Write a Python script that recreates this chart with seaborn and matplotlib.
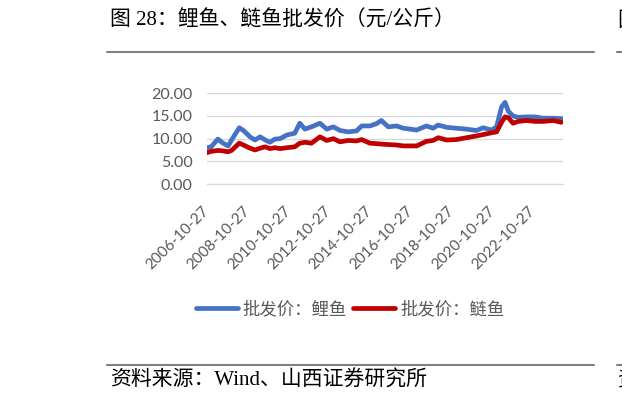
import pandas as pd
import seaborn as sns
import matplotlib.pyplot as plt
from matplotlib.lines import Line2D

"""Data read off the reference chart"""
dates = ['2006-10-27', '2007-01-15', '2007-05-15', '2007-08-15', '2007-11-15',
         '2008-01-15', '2008-06-01', '2008-08-15', '2008-12-10', '2009-03-10',
         '2009-06-10', '2009-09-10', '2009-12-01', '2010-03-01', '2010-06-01',
         '2010-10-01', '2011-02-20', '2011-05-20', '2011-08-20', '2011-12-15',
         '2012-05-15', '2012-09-15', '2013-01-10', '2013-05-10', '2013-10-01',
         '2014-03-01', '2014-06-01', '2014-10-27', '2015-02-20', '2015-05-20',
         '2015-09-20', '2016-02-15', '2016-06-15', '2016-10-15', '2017-02-10',
         '2017-08-01', '2017-12-01', '2018-03-01', '2018-08-01', '2019-01-20',
         '2019-07-20', '2020-01-15', '2020-05-15', '2020-10-15', '2021-01-10',
         '2021-04-10', '2021-06-10', '2021-08-10', '2021-11-01', '2022-02-01',
         '2022-07-01', '2022-12-01', '2023-04-20', '2023-10-20', '2024-03-15']
carp = [8.0, 8.2, 9.9, 9.0, 8.4, 9.7, 12.4, 11.8, 10.4, 9.7,
        10.4, 9.7, 9.2, 9.9, 10.0, 10.8, 11.2, 13.4, 12.1, 12.6,
        13.4, 12.1, 12.6, 11.8, 11.5, 11.7, 12.8, 12.8, 13.3, 14.0,
        12.6, 12.8, 12.3, 12.1, 11.9, 12.8, 12.3, 13.0, 12.5, 12.3,
        12.1, 11.8, 12.4, 11.9, 12.6, 17.0, 18.0, 16.0, 15.0, 14.7,
        14.8, 14.8, 14.5, 14.5, 14.4]
silver_carp = [6.9, 7.2, 7.4, 7.3, 7.1, 7.4, 9.0, 8.6, 7.9, 7.5,
               7.9, 8.2, 7.8, 8.0, 7.8, 8.0, 8.2, 9.0, 9.2, 9.0,
               10.4, 9.6, 10.0, 9.3, 9.6, 9.5, 9.8, 9.0, 8.9, 8.8,
               8.7, 8.6, 8.4, 8.4, 8.4, 9.4, 9.6, 10.2, 9.7, 9.8,
               10.2, 10.6, 10.9, 11.3, 11.5, 13.6, 14.8, 14.6, 13.4, 13.8,
               14.0, 13.8, 13.8, 14.0, 13.6]
series_names = ['批发价：鲤鱼', '批发价：鲢鱼']
tick_dates = ['2006-10-27', '2008-10-27', '2010-10-27', '2012-10-27', '2014-10-27',
              '2016-10-27', '2018-10-27', '2020-10-27', '2022-10-27']
y_ticks = [0, 5, 10, 15, 20]

df = pd.DataFrame({
    'date': pd.to_datetime(dates * 2),
    'price': carp + silver_carp,
    'series': [series_names[0]] * len(dates) + [series_names[1]] * len(dates),
})

sns.set_style('white')
plt.rcParams['font.family'] = ['Lato', 'Noto Sans CJK SC', 'DejaVu Sans']

fig = plt.figure(figsize=(6.22, 4.03), dpi=100)
ax = fig.add_axes([0.3323, 0.5434, 0.5724, 0.2251])

sns.lineplot(ax=ax, data=df, x='date', y='price', hue='series',
             palette=['#4472C4', '#C00000'], linewidth=3.4, legend=False)

"""Axes styling"""
ax.set_xlim(pd.Timestamp('2006-10-27'), pd.Timestamp('2024-04-08'))
ax.set_ylim(0, 20)
ax.set_yticks(y_ticks)
ax.set_yticklabels([f'{v:.2f}' for v in y_ticks])
ax.set_xticks(pd.to_datetime(tick_dates))
ax.set_xticklabels(tick_dates, rotation=45, ha='right', va='center',
                   rotation_mode='anchor')
ax.set_xlabel('')
ax.set_ylabel('')
ax.grid(axis='y', color='#D9D9D9', linewidth=1)
ax.grid(axis='x', visible=False)
for side in ['top', 'right', 'left']:
    ax.spines[side].set_visible(False)
ax.spines['bottom'].set_color('#D9D9D9')
ax.tick_params(axis='x', length=6, width=1, color='#D9D9D9', direction='out',
               labelsize=11, labelcolor='#595959', pad=12)
ax.tick_params(axis='y', length=0, labelsize=11.5, labelcolor='#595959', pad=10)

"""Legend"""
handles = [Line2D([0], [0], color='#4472C4', linewidth=3.4),
           Line2D([0], [0], color='#C00000', linewidth=3.4)]
leg = fig.legend(handles, series_names, loc='center', ncol=2,
                 bbox_to_anchor=(0.563, 0.232), frameon=False,
                 handlelength=2.4, handletextpad=0.3, columnspacing=0.35,
                 prop={'family': ['Noto Sans CJK SC'], 'size': 12.5})
for t in leg.get_texts():
    t.set_color('#595959')

"""Title, source and rules"""
serif_cjk = ['Liberation Serif', 'Noto Sans CJK SC']
fig.text(110 / 622, 1 - 21 / 403, '图 28：鲤鱼、鲢鱼批发价（元/公斤）',
         family=serif_cjk, fontsize=15, va='center', ha='left', color='black')
fig.text(110 / 622, 1 - 381 / 403, '资料来源：Wind、山西证券研究所',
         family=serif_cjk, fontsize=15, va='center', ha='left', color='black')
fig.text(617 / 622, 1 - 21 / 403, '图', family=serif_cjk, fontsize=15,
         va='center', ha='left', color='black')
fig.text(617 / 622, 1 - 381 / 403, '资', family=serif_cjk, fontsize=15,
         va='center', ha='left', color='black')
for y in [1 - 51.7 / 403, 1 - 365 / 403]:
    fig.add_artist(Line2D([107 / 622, 594 / 622], [y, y], color='#7F7F7F',
                          linewidth=1.5, transform=fig.transFigure))
    fig.add_artist(Line2D([617 / 622, 1.0], [y, y], color='#7F7F7F',
                          linewidth=1.5, transform=fig.transFigure))

fig.savefig('out.png', dpi=100)
